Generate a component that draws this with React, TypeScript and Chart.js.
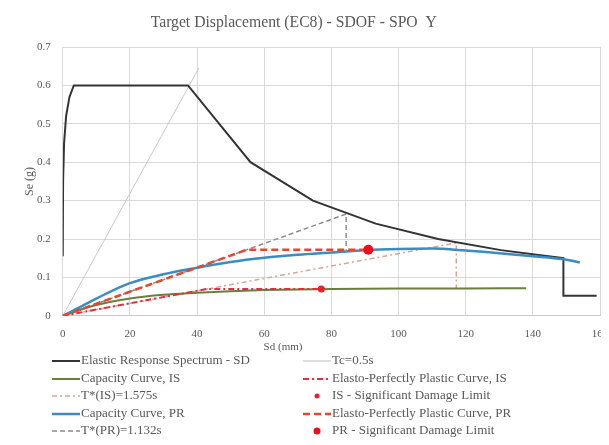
import React, { useEffect, useRef } from "react";
import { Chart, registerables } from "chart.js";
Chart.register(...registerables);

const TITLE = "Target Displacement (EC8) - SDOF - SPO  Y";
const X_TITLE = "Sd (mm)";
const Y_TITLE = "Se (g)";
const X_MIN = 0, X_MAX = 160, X_STEP = 20;
const Y_MIN = 0, Y_MAX = 0.7, Y_STEP = 0.1;

// Elastic response spectrum (Sd mm, Se g)
const spectrumSd = [0, 0.1, 0.4, 1.0, 2.0, 3.3, 37.3, 55.9, 74.5, 93.2, 111.8, 130.5, 149.1, 149.1, 159];
const spectrumSe = [0.155, 0.35, 0.45, 0.52, 0.57, 0.6, 0.6, 0.4, 0.3, 0.24, 0.2, 0.171, 0.15, 0.052, 0.052];

// Tc = 0.5 s line
const tcSd = [0, 40.5];
const tcSe = [0, 0.645];

// Capacity curve IS
const capISSd = [0, 5, 10, 20, 30, 40, 50, 60, 80, 100, 120, 138];
const capISSe = [0, 0.015, 0.028, 0.045, 0.055, 0.06, 0.064, 0.067, 0.07, 0.071, 0.071, 0.072];

// Elasto-perfectly plastic IS
const eppISSd = [0, 43, 77];
const eppISSe = [0, 0.07, 0.07];

// T*(IS)
const tIS_Sd = [0, 117.2, 117.2];
const tIS_Se = [0, 0.19, 0.07];

// IS significant damage limit
const sdlISSd = [77];
const sdlISSe = [0.07];

// Capacity curve PR
const capPRSd = [0, 5, 10, 20, 30, 40, 50, 60, 70, 80, 90, 100, 110, 120, 130, 140, 149, 154];
const capPRSe = [0, 0.022, 0.045, 0.085, 0.108, 0.125, 0.14, 0.151, 0.159, 0.165, 0.171, 0.174, 0.175, 0.17, 0.163, 0.155, 0.147, 0.139];

// Elasto-perfectly plastic PR
const eppPRSd = [0, 54.8, 91];
const eppPRSe = [0, 0.172, 0.172];

// T*(PR)
const tPR_Sd = [0, 84.4, 84.4];
const tPR_Se = [0, 0.265, 0.172];

// PR significant damage limit
const sdlPRSd = [91];
const sdlPRSe = [0.172];

type Series = {
  label: string;
  xs: number[];
  ys: number[];
  color: string;
  width: number;
  dash: number[];
  point: number; // radius; 0 = line
  smooth: boolean;
  order: number;
};

const SERIES: Series[] = [
  { label: "Elastic Response Spectrum - SD", xs: spectrumSd, ys: spectrumSe, color: "#333333", width: 2, dash: [], point: 0, smooth: false, order: 5 },
  { label: "Tc=0.5s", xs: tcSd, ys: tcSe, color: "#c8c8c8", width: 1, dash: [], point: 0, smooth: false, order: 9 },
  { label: "Capacity Curve, IS", xs: capISSd, ys: capISSe, color: "#6a7f3f", width: 2, dash: [], point: 0, smooth: true, order: 6 },
  { label: "Elasto-Perfectly Plastic Curve, IS", xs: eppISSd, ys: eppISSe, color: "#e03040", width: 2, dash: [6, 3, 2, 3], point: 0, smooth: false, order: 4 },
  { label: "T*(IS)=1.575s", xs: tIS_Sd, ys: tIS_Se, color: "#dba395", width: 1.5, dash: [5, 3, 2, 3], point: 0, smooth: false, order: 7 },
  { label: "IS - Significant Damage Limit", xs: sdlISSd, ys: sdlISSe, color: "#e8202a", width: 0, dash: [], point: 3.5, smooth: false, order: 1 },
  { label: "Capacity Curve, PR", xs: capPRSd, ys: capPRSe, color: "#3a8cc1", width: 2.5, dash: [], point: 0, smooth: true, order: 3 },
  { label: "Elasto-Perfectly Plastic Curve, PR", xs: eppPRSd, ys: eppPRSe, color: "#e8452e", width: 2.5, dash: [7, 4], point: 0, smooth: false, order: 2 },
  { label: "T*(PR)=1.132s", xs: tPR_Sd, ys: tPR_Se, color: "#8c8c8c", width: 1.5, dash: [5, 3], point: 0, smooth: false, order: 8 },
  { label: "PR - Significant Damage Limit", xs: sdlPRSd, ys: sdlPRSe, color: "#e8101e", width: 0, dash: [], point: 5, smooth: false, order: 0 },
];

const FONT = '"Liberation Serif", "DejaVu Serif", serif';
const TEXT_COLOR = "#595959";

const titlePlugin = {
  id: "offsetTitles",
  afterDraw(chart: any) {
    const { ctx, chartArea } = chart;
    const w = chartArea.right - chartArea.left;
    ctx.save();
    ctx.fillStyle = TEXT_COLOR;
    ctx.textAlign = "center";
    ctx.textBaseline = "middle";
    ctx.font = `15.7px ${FONT}`;
    ctx.fillText(TITLE, chartArea.left + w * 0.43, 23);
    ctx.font = `11px ${FONT}`;
    ctx.fillText(X_TITLE, chartArea.left + w * 0.41, chartArea.bottom + 31);
    ctx.font = `12px ${FONT}`;
    ctx.translate(30, (chartArea.top + chartArea.bottom) / 2);
    ctx.rotate(-Math.PI / 2);
    ctx.fillText(Y_TITLE, 0, 0);
    ctx.restore();
  },
};

function LegendSample({ s }: { s: Series }) {
  return (
    <svg width={28} height={10} style={{ display: "inline-block", verticalAlign: "middle", marginRight: 1 }}>
      {s.point > 0 ? (
        <circle cx={14} cy={5} r={s.point > 4 ? 3.5 : 2.5} fill={s.color} />
      ) : (
        <line x1={0} y1={5} x2={28} y2={5} stroke={s.color} strokeWidth={Math.max(s.width, 1.2)} strokeDasharray={s.dash.join(",")} />
      )}
    </svg>
  );
}

export default function App() {
  const ref = useRef<HTMLCanvasElement | null>(null);

  useEffect(() => {
    if (!ref.current) return;
    const datasets = SERIES.map((s) => ({
      label: s.label,
      data: s.xs.map((x, i) => ({ x, y: s.ys[i] })),
      borderColor: s.color,
      backgroundColor: s.color,
      borderWidth: s.width,
      borderDash: s.dash,
      showLine: s.point === 0,
      pointRadius: s.point,
      pointHoverRadius: s.point,
      pointBorderWidth: 0,
      tension: s.smooth ? 0.4 : 0,
      cubicInterpolationMode: s.smooth ? "monotone" : "default",
      order: s.order,
    }));
    const chart = new Chart(ref.current, {
      type: "scatter",
      data: { datasets: datasets as any },
      options: {
        animation: false,
        responsive: false,
        layout: { padding: { left: 25, right: 25, top: 47, bottom: 92 } },
        plugins: { legend: { display: false }, title: { display: false }, tooltip: { enabled: false } },
        scales: {
          x: {
            type: "linear",
            min: X_MIN,
            max: X_MAX,
            ticks: { stepSize: X_STEP, color: TEXT_COLOR, font: { family: FONT, size: 11 }, padding: 12 },
            grid: { color: "#d9d9d9", drawTicks: false },
            border: { color: "#c8c8c8" },
          },
          y: {
            type: "linear",
            min: Y_MIN,
            max: Y_MAX,
            ticks: {
              stepSize: Y_STEP,
              color: TEXT_COLOR,
              font: { family: FONT, size: 11 },
              padding: 12,
              callback: (v: any) => String(Number(Number(v).toFixed(1))),
            },
            grid: { color: "#d9d9d9", drawTicks: false },
            border: { display: false },
          },
        },
      },
      plugins: [titlePlugin],
    });
    return () => chart.destroy();
  }, []);

  const col1 = SERIES.filter((_, i) => i % 2 === 0);
  const col2 = SERIES.filter((_, i) => i % 2 === 1);
  const itemStyle: React.CSSProperties = { height: 17.5, lineHeight: "17.5px", whiteSpace: "nowrap", fontFamily: FONT, fontSize: 13, color: TEXT_COLOR };

  return (
    <div style={{ position: "relative", width: 609, height: 445, margin: -8, overflow: "hidden" }}>
      <canvas ref={ref} width={625} height={445} style={{ position: "absolute", left: 0, top: 0, width: 625, height: 445 }} />
      <div style={{ position: "absolute", left: 52, top: 351 }}>
        {col1.map((s) => (
          <div key={s.label} style={itemStyle}>
            <LegendSample s={s} />
            {s.label}
          </div>
        ))}
      </div>
      <div style={{ position: "absolute", left: 303, top: 351 }}>
        {col2.map((s) => (
          <div key={s.label} style={itemStyle}>
            <LegendSample s={s} />
            {s.label}
          </div>
        ))}
      </div>
    </div>
  );
}
